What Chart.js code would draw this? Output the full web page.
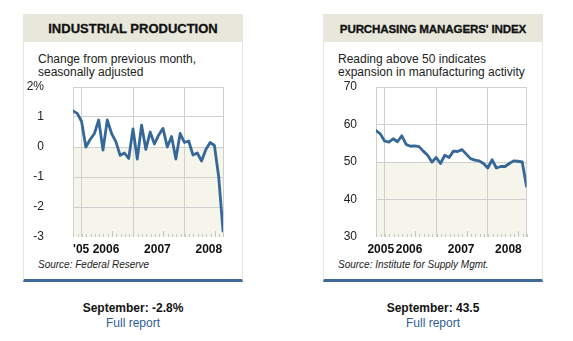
<!DOCTYPE html>
<html lang="en">
<head>
  <meta charset="UTF-8" />
  <title>Industrial Production and Purchasing Managers' Index</title>
  <script src="https://cdn.jsdelivr.net/npm/chart.js"></script>
  <style>
    body{margin:0;background:#fff;font-family:"Liberation Sans",Arial,Helvetica,sans-serif;color:#222;}
    .card{position:absolute;top:14px;width:218px;height:265px;background:#fff;border:1px solid #e6e6e2;border-top:none;border-bottom:3px solid #3d6a98;}
    .head{height:28px;line-height:29px;background:#e7e7db;text-align:center;font-weight:bold;color:#111;white-space:nowrap;-webkit-text-stroke:0.3px #111;}
    .sub{position:absolute;left:14px;top:39px;font-size:12px;line-height:13px;}
    .src{position:absolute;left:14px;top:245px;font-size:10px;font-style:italic;}
    .box{position:absolute;left:-1px;top:63px;width:220px;height:180px;}
    .foot{position:absolute;top:301px;width:220px;text-align:center;font-size:12px;line-height:15px;}
    .foot b{display:block;color:#111;}
    .foot a{color:#2f5d98;text-decoration:none;}
  </style>
</head>
<body>
  <div class="card" style="left:23px">
    <div class="head" style="font-size:13px">INDUSTRIAL PRODUCTION</div>
    <div class="sub">Change from previous month,<br>seasonally adjusted</div>
    <div class="box"><canvas id="ip"></canvas></div>
    <div class="src">Source: Federal Reserve</div>
  </div>
  <div class="foot" style="left:23px"><b>September: -2.8%</b><a href="#">Full report</a></div>

  <div class="card" style="left:323px">
    <div class="head" style="font-size:11.6px;letter-spacing:-0.15px">PURCHASING MANAGERS' INDEX</div>
    <div class="sub">Reading above 50 indicates<br>expansion in manufacturing activity</div>
    <div class="box"><canvas id="pmi"></canvas></div>
    <div class="src">Source: Institute for Supply Mgmt.</div>
  </div>
  <div class="foot" style="left:323px"><b>September: 43.5</b><a href="#">Full report</a></div>

  <script>
    // months Oct 2005 .. Sep 2008
    const months = ['2005-10','2005-11','2005-12',
      '2006-01','2006-02','2006-03','2006-04','2006-05','2006-06','2006-07','2006-08','2006-09','2006-10','2006-11','2006-12',
      '2007-01','2007-02','2007-03','2007-04','2007-05','2007-06','2007-07','2007-08','2007-09','2007-10','2007-11','2007-12',
      '2008-01','2008-02','2008-03','2008-04','2008-05','2008-06','2008-07','2008-08','2008-09'];
    const ipChange = [1.2, 1.12, 0.85, 0.0, 0.25, 0.45, 0.9, -0.1, 0.9, 0.45, 0.18, -0.28,
      -0.2, -0.38, 0.6, -0.4, 0.73, -0.08, 0.5, 0.1, 0.4, 0.62, 0.0, 0.35,
      -0.4, 0.45, 0.15, 0.2, -0.27, -0.2, -0.47, -0.08, 0.15, 0.05, -1.0, -2.8];
    const pmiReading = [58.4, 57.5, 55.6, 55.3, 56.2, 55.4, 57.0, 54.7, 54.2, 54.3, 54.1, 52.9,
      51.8, 50.0, 51.2, 49.6, 51.8, 51.2, 52.9, 52.8, 53.3, 52.1, 50.9, 50.5,
      50.3, 49.6, 48.4, 50.6, 48.4, 48.8, 48.8, 49.6, 50.3, 50.2, 50.0, 43.5];
    const yearStarts = [2, 14, 26];       // month index where a new year begins
    const ipYearLabels = ["'05", '2006', '2007', '2008'];
    const ipLabelAt = [1.9, 7.7, 19.7, 31.7];
    const pmiYearLabels = ['2005', '2006', '2007', '2008'];
    const pmiLabelAt = [1.1, 7.7, 19.8, 30.8];
    const ipTicks = [-3, -2, -1, 0, 1, 2];
    const pmiTicks = [30, 40, 50, 60, 70];

    const FONT = '"Liberation Sans", Arial, Helvetica, sans-serif';
    const LINE = '#356798';
    const GRID = '#cfcfcf';
    const NONE = 'rgba(0,0,0,0)';

    // beige band under the baseline + small monthly ticks along the bottom
    const decor = {
      id: 'decor',
      beforeDraw(chart, args, opts) {
        const { ctx, chartArea: a, scales } = chart;
        const y0 = scales.y.getPixelForValue(opts.base);
        ctx.save();
        ctx.fillStyle = '#f5f5eb';
        ctx.fillRect(a.left, y0, a.right - a.left, a.bottom - y0);
        ctx.restore();
      },
      beforeDatasetsDraw(chart) {
        const { ctx, chartArea: a, scales } = chart;
        ctx.save();
        ctx.strokeStyle = '#c4c4c4';
        ctx.lineWidth = 1;
        for (let i = 0; i < months.length; i++) {
          const x = Math.round(scales.x.getPixelForValue(i + 0.1)) + 0.5;
          const h = months[i].endsWith('-07') ? 6 : 3;
          ctx.beginPath();
          ctx.moveTo(x, a.bottom);
          ctx.lineTo(x, a.bottom - h);
          ctx.stroke();
        }
        ctx.restore();
      }
    };

    function makeChart(id, values, yTicks, yFmt, base, labels, labelAt, yWidth, padRight, labelGap) {
      const last = months.length - 1;
      const isLabel = v => labelAt.includes(v);
      return new Chart(document.getElementById(id), {
        type: 'line',
        data: {
          datasets: [{
            data: values.map((v, i) => ({ x: i, y: v })),
            borderColor: LINE, borderWidth: 2.8, pointRadius: 0,
            tension: 0, borderJoinStyle: 'round', borderCapStyle: 'round'
          }]
        },
        options: {
          responsive: true, maintainAspectRatio: false, animation: false,
          layout: { padding: { top: 10, right: padRight, left: 0, bottom: 0 } },
          plugins: { legend: { display: false }, tooltip: { enabled: false }, decor: { base } },
          scales: {
            x: {
              type: 'linear', min: 0, max: last,
              afterBuildTicks: s => {
                s.ticks = [0, ...yearStarts, ...labelAt, last].sort((a, b) => a - b).map(v => ({ value: v }));
              },
              afterFit: s => { s.height = 20; },
              grid: {
                drawTicks: false,
                color: c => (c.tick && isLabel(c.tick.value)) ? NONE : GRID
              },
              border: { display: false },
              ticks: {
                autoSkip: false, maxRotation: 0, padding: 5, color: '#111',
                font: { family: FONT, size: 12, weight: 'bold' },
                callback: v => isLabel(v) ? labels[labelAt.indexOf(v)] : ''
              }
            },
            y: {
              min: yTicks[0], max: yTicks[yTicks.length - 1],
              afterBuildTicks: s => { s.ticks = yTicks.map(v => ({ value: v })); },
              afterFit: s => { s.width = yWidth; },
              grid: {
                drawTicks: true, tickLength: labelGap, tickColor: NONE,
                color: c => (c.tick && c.tick.value === yTicks[0]) ? NONE : GRID
              },
              border: { display: false },
              ticks: {
                padding: 0, color: '#222',
                font: { family: FONT, size: 12 },
                callback: yFmt
              }
            }
          }
        },
        plugins: [decor]
      });
    }

    makeChart('ip', ipChange, ipTicks, v => v === 2 ? '2%' : String(v), 0,
      ipYearLabels, ipLabelAt, 50, 20, 29);
    makeChart('pmi', pmiReading, pmiTicks, v => String(v), 50,
      pmiYearLabels, pmiLabelAt, 53, 16.5, 19);
  </script>
</body>
</html>
